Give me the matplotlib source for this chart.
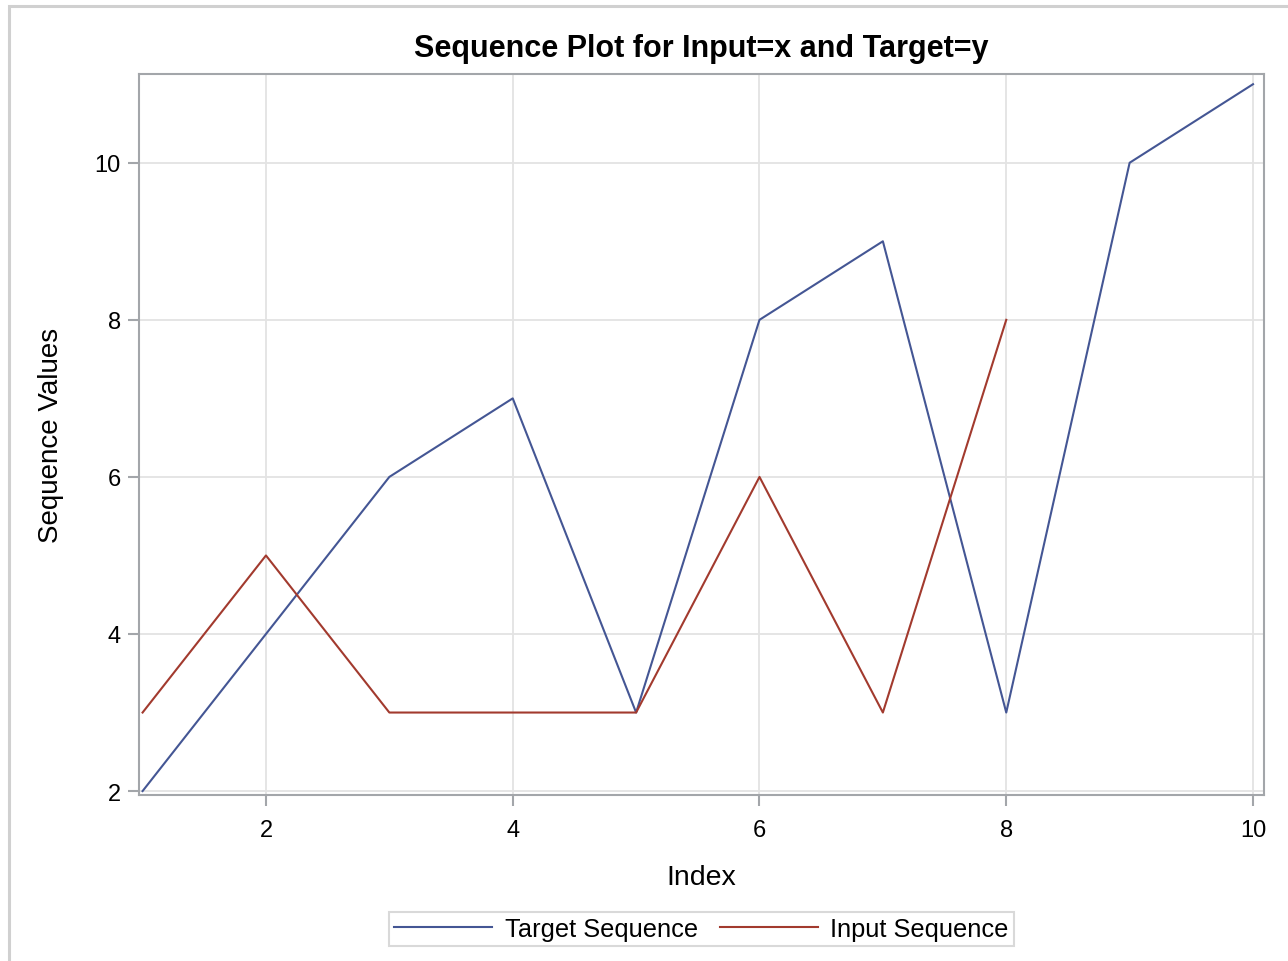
import numpy as np
import matplotlib
matplotlib.use("Agg")
import matplotlib.pyplot as plt
from matplotlib.patches import Rectangle

# sequence data
index_target = [1, 2, 3, 4, 5, 6, 7, 8, 9, 10]
target_seq = [2, 4, 6, 7, 3, 8, 9, 3, 10, 11]
index_input = [1, 2, 3, 4, 5, 6, 7, 8]
input_seq = [3, 5, 3, 3, 3, 6, 3, 8]
xticks = [2, 4, 6, 8, 10]
yticks = [2, 4, 6, 8, 10]

blue = '#445694'
red = '#A23A2E'
frame = '#A3A6AA'

plt.rcParams['font.family'] = ['Liberation Sans', 'DejaVu Sans']

fig = plt.figure(figsize=(12.88, 9.62), dpi=100)
# outer light border
fig.patches.append(Rectangle((9/1288, -0.01), 1.2, 1 - 7/962 + 0.01, transform=fig.transFigure,
                             fill=False, edgecolor='#D0D0D0', linewidth=2.2))

ax = fig.add_axes([139/1288, 1 - 796/962, 1125/1288, 721/962])
ax.plot(index_target, target_seq, color=blue, lw=1.5, label='Target Sequence')
ax.plot(index_input, input_seq, color=red, lw=1.5, label='Input Sequence')

ax.set_xlim(0.971, 10.089)
ax.set_ylim(1.95, 11.13)
ax.set_xticks(xticks)
ax.set_yticks(yticks)
ax.grid(True, color='#E3E3E3', lw=1.3)
ax.set_axisbelow(True)
for s in ax.spines.values():
    s.set_color(frame)
    s.set_linewidth(1.5)
ax.tick_params(colors=frame, labelcolor='black', labelsize=17, length=8, width=1.5)
ax.tick_params(axis='x', pad=9.5)
ax.tick_params(axis='y', pad=5)

ax.set_title('Sequence Plot for Input=x and Target=y', fontsize=22, fontweight='bold', pad=13)
ax.set_xlabel('Index', fontsize=20.5, labelpad=16)
ax.set_ylabel('Sequence Values', fontsize=20, labelpad=22)

leg = ax.legend(loc='upper center', bbox_to_anchor=(0.5, -0.162), ncol=2, fontsize=18.3,
                frameon=True, fancybox=False, handlelength=3.85, columnspacing=0.87,
                handletextpad=0.5, borderpad=0.2, borderaxespad=0)
leg.get_frame().set_edgecolor('#D0D0D0')
leg.get_frame().set_linewidth(1.5)

fig.savefig('out.png', dpi=100)
